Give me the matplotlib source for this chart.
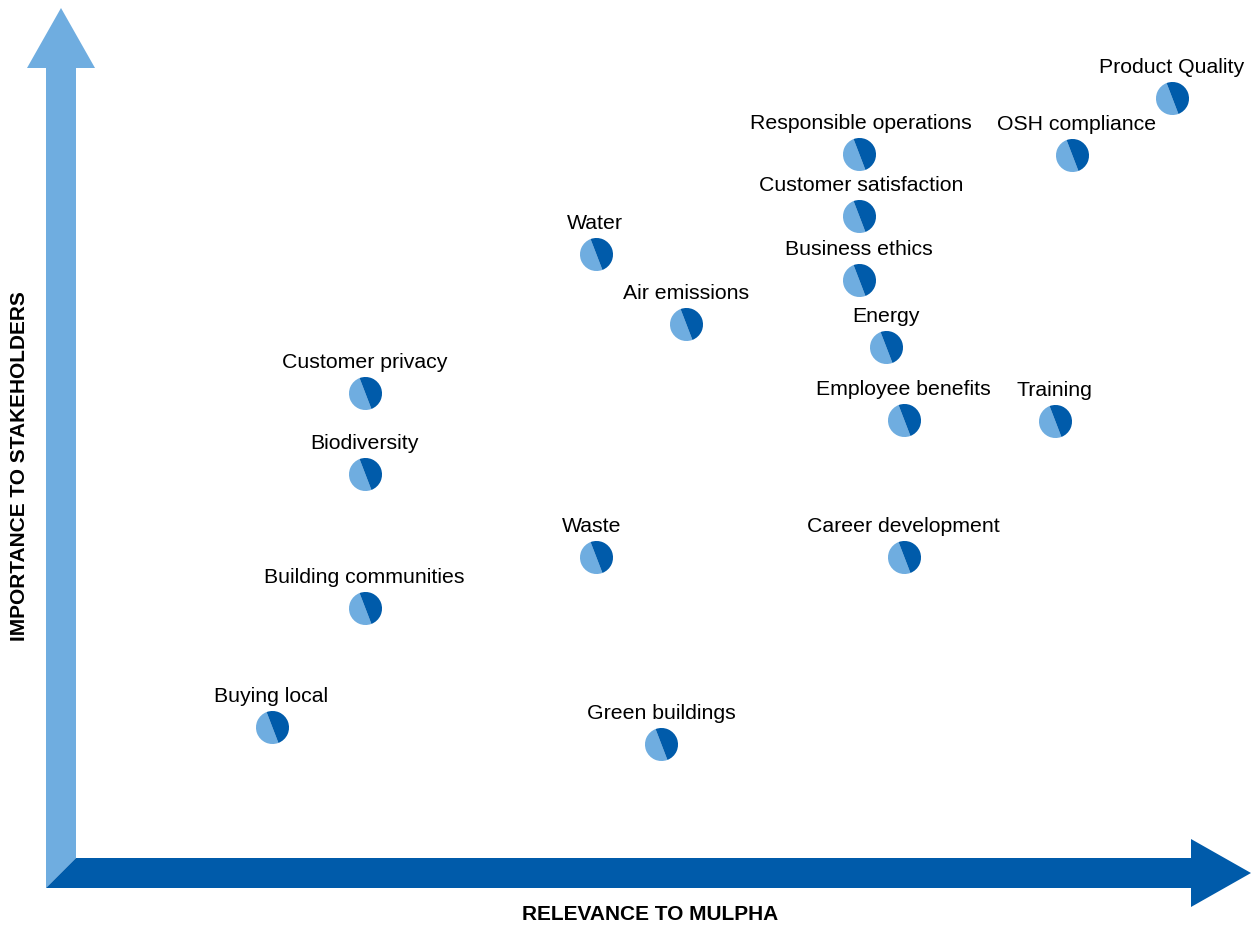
import matplotlib
matplotlib.use("Agg")
import matplotlib.pyplot as plt
from matplotlib.path import Path
from matplotlib.patches import Polygon

plt.rcParams["font.family"] = ["Liberation Sans", "DejaVu Sans"]

# Materiality topics: relevance to the company (x) and importance to stakeholders (y), 0-100 scale
topics = [
    "Product Quality", "OSH compliance", "Responsible operations", "Customer satisfaction",
    "Water", "Business ethics", "Air emissions", "Energy", "Customer privacy",
    "Employee benefits", "Training", "Biodiversity", "Waste", "Career development",
    "Building communities", "Buying local", "Green buildings",
]
relevance = [93.2, 85.3, 68.3, 68.3, 47.4, 68.3, 54.6, 70.5, 29.0,
             71.9, 83.9, 29.0, 47.4, 71.9, 29.0, 21.6, 52.6]
importance = [89.4, 83.3, 83.4, 76.7, 72.6, 69.8, 65.0, 62.5, 57.6,
              54.6, 54.5, 48.8, 39.8, 39.8, 34.3, 21.5, 19.7]

LIGHT = "#6fade0"
DARK = "#005baa"

# small horizontal label nudges (points) where a label sits off-centre from its marker
label_dx = {"OSH compliance": 3, "Responsible operations": 2, "Customer satisfaction": 2,
            "Waste": -3, "Water": -1}

W, H, DPI = 1257, 926, 100
fig = plt.figure(figsize=(W / DPI, H / DPI), dpi=DPI)
ax = fig.add_axes([0, 0, 1, 1])
ax.set_xlim(0, 100)
ax.set_ylim(0, 100)
ax.axis("off")


def px(x, y):
    """Convert figure pixel position (origin top-left) to data units."""
    return (x / W * 100, (H - y) / H * 100)


# Vertical axis arrow (light) and horizontal axis arrow (dark), mitred at the corner
v_arrow = [px(46, 888), px(76, 858), px(76, 68), px(95, 68), px(61, 8), px(27, 68), px(46, 68)]
h_arrow = [px(46, 888), px(76, 858), px(1191, 858), px(1191, 839), px(1251, 873),
           px(1191, 907), px(1191, 888)]
ax.add_patch(Polygon(v_arrow, closed=True, facecolor=LIGHT, edgecolor="none", zorder=1))
ax.add_patch(Polygon(h_arrow, closed=True, facecolor=DARK, edgecolor="none", zorder=2))

# Two-tone circular markers: dark half on the right, light half on the left
split = 111
dark_half = Path.wedge(split - 180, split)
light_half = Path.wedge(split, split + 180)
size = (34 * 72 / DPI) ** 2
ax.scatter(relevance, importance, marker=light_half, s=size, color=LIGHT,
           linewidths=0, zorder=3)
ax.scatter(relevance, importance, marker=dark_half, s=size, color=DARK,
           linewidths=0, zorder=4)

for name, x, y in zip(topics, relevance, importance):
    ax.annotate(name, (x, y), xytext=(label_dx.get(name, 0), 18), textcoords="offset points",
                ha="center", va="baseline", fontsize=15.3, color="#000000", zorder=5)

# Axis titles
ax.text(*px(650, 914), "RELEVANCE TO MULPHA", ha="center", va="center",
        fontsize=15, fontweight="bold", color="#000000")
ax.text(*px(20, 466), "IMPORTANCE TO STAKEHOLDERS", ha="center", va="center",
        rotation=90, fontsize=15, fontweight="bold", color="#000000")

fig.savefig("out.png", dpi=DPI)
